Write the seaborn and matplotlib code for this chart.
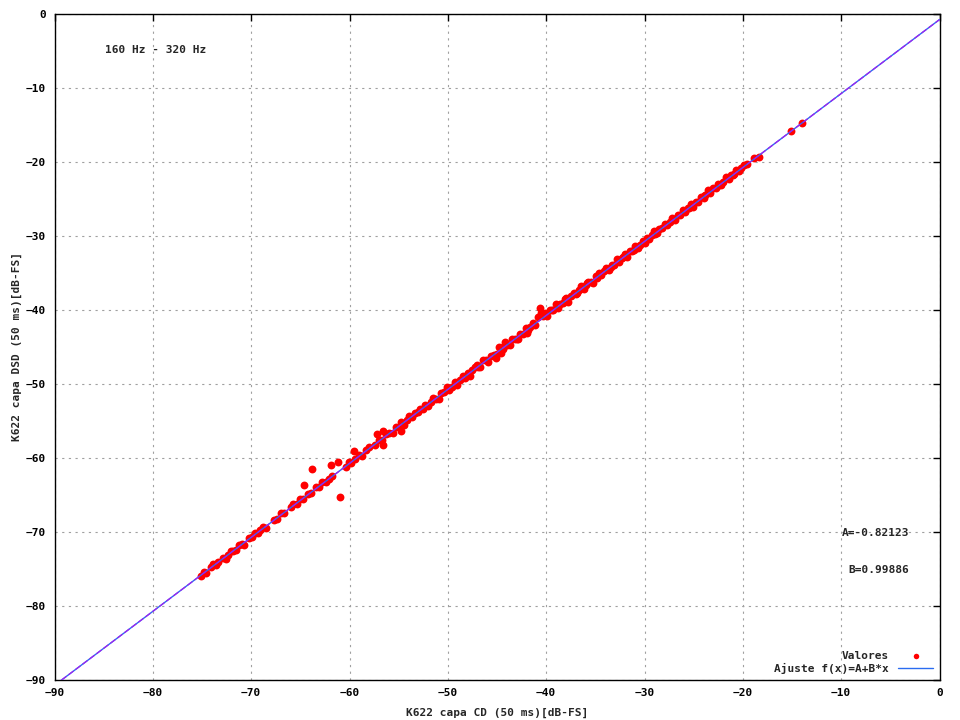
import numpy as np
import pandas as pd
import matplotlib
matplotlib.use('Agg')
import matplotlib.pyplot as plt
import seaborn as sns

# Valores (K622, banda 160 Hz - 320 Hz)
valores_cd = [
    -75.1, -74.8, -74.6, -74.1, -73.9, -73.6, -73.4, -72.9, -72.6, -72.4, -72.1, -71.8,
    -71.5, -71.2, -70.9, -70.7, -70.2, -69.9, -69.6, -69.3, -69.1, -68.8, -68.5, -67.7,
    -67.4, -67.0, -66.7, -66.0, -65.7, -65.3, -65.0, -64.7,
    -64.2, -63.9, -63.4, -63.1, -62.8, -62.4, -62.1, -61.8, -60.4, -60.1, -59.8, -59.4,
    -59.0, -58.7, -58.3, -58.0, -57.4, -57.0, -56.7, -56.3, -56.0, -55.6, -55.3, -55.0,
    -54.8, -54.5, -54.2, -53.9, -53.6, -53.3, -53.0,
    -63.8, -64.6, -61.0, -61.9, -61.2, -59.5, -57.2, -56.6, -56.6, -54.8,
    -52.8, -52.5, -52.3, -52.0, -51.7, -51.5, -51.2, -50.9, -50.7, -50.4, -50.1, -49.9,
    -49.6, -49.3, -49.1, -48.8, -48.5, -48.3, -48.0, -47.7, -47.5, -47.2, -46.9, -46.7,
    -46.4, -46.1, -45.9, -45.6, -45.3, -45.1, -44.8, -44.6, -44.4, -44.2, -44.0, -43.7,
    -43.5, -43.2, -42.9, -42.7, -42.4, -42.1, -41.9, -41.6, -41.3, -41.1, -40.8, -40.5,
    -40.3, -40.1, -47.0, -45.0, -44.3, -43.0, -41.8, -40.6,
    -39.9, -39.6, -39.3, -39.0, -38.8, -38.6, -38.3, -38.0, -37.8, -37.5, -37.2, -37.0,
    -36.7, -36.5, -36.2, -35.9, -35.7, -35.4, -35.2, -34.9, -34.6, -34.4, -34.1, -33.9,
    -33.6, -33.3, -33.1, -32.8, -32.6, -32.3, -32.0, -31.8, -31.5, -31.3, -31.0, -30.7,
    -30.5, -30.2, -30.0, -39.4, -38.1, -36.9, -35.8, -34.8, -33.4, -32.2, -31.1,
    -29.7, -29.5, -29.2, -29.0, -28.7, -28.5, -28.2, -27.9, -27.7, -27.4, -27.2, -26.9,
    -26.6, -26.4, -26.1, -25.9, -25.6, -25.3, -25.1, -24.8, -24.6, -24.3, -24.0, -23.8,
    -23.5, -23.3, -23.0, -22.7, -22.5, -22.2, -22.0, -21.7, -21.4, -21.2, -20.9, -20.7,
    -20.4, -20.2, -19.9, -28.9, -27.0, -25.5, -23.9, -22.4, -21.0,
    -19.6, -18.9, -18.4, -15.1, -14.0,
]
valores_dsd = [
    -75.9, -75.4, -75.5, -74.8, -74.4, -74.5, -74.1, -73.5, -73.6, -73.1, -72.6, -72.6,
    -72.4, -71.8, -71.6, -71.8, -70.8, -70.7, -70.1, -70.2, -69.8, -69.4, -69.5, -68.4,
    -68.3, -67.5, -67.5, -66.7, -66.3, -66.2, -65.5, -65.5,
    -64.9, -64.8, -64.0, -63.9, -63.3, -63.3, -62.8, -62.4, -61.2, -60.6, -60.7, -60.1,
    -59.6, -59.7, -59.0, -58.5, -58.2, -57.6, -57.6, -56.8, -56.7, -56.6, -55.9, -55.8,
    -55.2, -55.6, -54.9, -54.4, -54.5, -53.9, -53.8,
    -61.5, -63.7, -65.3, -61.0, -60.6, -59.1, -56.8, -56.4, -58.3, -56.4,
    -53.4, -53.4, -52.8, -53.0, -52.4, -51.9, -52.0, -52.0, -51.3, -51.1, -50.4, -50.8,
    -50.4, -49.8, -50.1, -49.5, -48.9, -49.2, -48.6, -48.9, -48.2, -47.7, -47.7, -47.7,
    -46.8, -46.8, -47.0, -46.2, -46.1, -46.5, -45.1, -45.8, -45.3, -44.4, -44.7, -44.7,
    -44.0, -44.0, -44.0, -43.3, -43.3, -42.5, -43.2, -42.3, -41.8, -42.0, -41.0, -40.4,
    -40.9, -40.4, -47.4, -46.0, -44.9, -43.9, -42.8, -39.8,
    -40.8, -40.1, -40.0, -39.2, -39.8, -39.2, -39.1, -38.4, -38.9, -38.2, -37.7, -37.9,
    -37.3, -36.8, -37.2, -36.6, -36.2, -36.2, -36.4, -35.5, -35.0, -35.3, -34.8, -34.4,
    -34.6, -33.9, -33.9, -33.2, -33.5, -33.0, -32.5, -32.9, -32.1, -32.1, -31.4, -31.6,
    -31.2, -30.7, -31.0, -40.0, -38.6, -37.8, -36.4, -35.7, -34.2, -32.9, -31.9,
    -30.3, -30.4, -29.9, -29.4, -29.7, -29.1, -29.0, -28.4, -28.6, -28.1, -27.6, -27.9,
    -27.2, -27.2, -26.6, -26.8, -26.3, -25.7, -26.1, -25.4, -25.4, -24.8, -24.9, -24.5,
    -23.9, -24.3, -23.6, -23.5, -23.0, -23.1, -22.7, -22.1, -22.4, -21.8, -21.7, -21.2,
    -21.3, -20.9, -20.5, -29.8, -27.7, -26.3, -24.6, -23.2, -21.8,
    -20.3, -19.5, -19.4, -15.8, -14.8,
]

# Parametros del ajuste f(x)=A+B*x
A = -0.82123
B = 0.99886

ticks = list(range(-90, 1, 10))

datos = pd.DataFrame({'cd': valores_cd, 'dsd': valores_dsd})
x_fit = np.array([-90.0, 0.0])
ajuste = pd.DataFrame({'cd': x_fit, 'dsd': A + B * x_fit})

sns.set_style('white')
plt.rcParams['font.family'] = ['DejaVu Sans Mono']
plt.rcParams['font.weight'] = 'bold'

fig = plt.figure(figsize=(9.6, 7.2), dpi=100)
ax = fig.add_axes([54.5 / 960, 40 / 720, 885 / 960, 666.5 / 720])

sns.scatterplot(data=datos, x='cd', y='dsd', ax=ax, color='#ff0000', marker='o',
                s=32, linewidth=0, label='Valores', zorder=3)
sns.lineplot(data=ajuste, x='cd', y='dsd', ax=ax, color='#2a6cf0', linewidth=1.0,
             label='Ajuste f(x)=A+B*x', zorder=4)
ax.plot(x_fit, A + B * x_fit, color='#a020f0', linewidth=0.9,
        linestyle=(0, (5, 2)), zorder=5)

ax.set_xlim(-90, 0)
ax.set_ylim(-90, 0)
ax.set_xticks(ticks)
ax.set_yticks(ticks)
ax.grid(True, color='#a0a0a0', linestyle=(0, (2, 4)), linewidth=0.8)
ax.tick_params(direction='in', length=5, width=1, top=True, right=True,
               labelsize=8, colors='black', pad=6)
for lab in ax.get_xticklabels() + ax.get_yticklabels():
    lab.set_fontweight('bold')
for s in ax.spines.values():
    s.set_color('black')
    s.set_linewidth(1)

ax.set_xlabel('K622 capa CD (50 ms)[dB-FS]', fontsize=8, fontweight='bold', labelpad=7)
ax.set_ylabel('K622 capa DSD (50 ms)[dB-FS]', fontsize=8, fontweight='bold', labelpad=3)

ax.text(-84.9, -4.9, '160 Hz - 320 Hz', fontsize=8, fontweight='bold', va='center', ha='left')
ax.text(-3.1, -70.2, 'A=-0.82123', fontsize=8, fontweight='bold', va='center', ha='right')
ax.text(-3.1, -75.2, 'B=0.99886', fontsize=8, fontweight='bold', va='center', ha='right')

leg = ax.legend(loc='lower right', frameon=False, markerfirst=False, fontsize=8,
                handlelength=3.2, borderaxespad=0.15, labelspacing=0.2,
                markerscale=0.7)
for t in leg.get_texts():
    t.set_fontweight('bold')

fig.savefig('out.png', dpi=100)
